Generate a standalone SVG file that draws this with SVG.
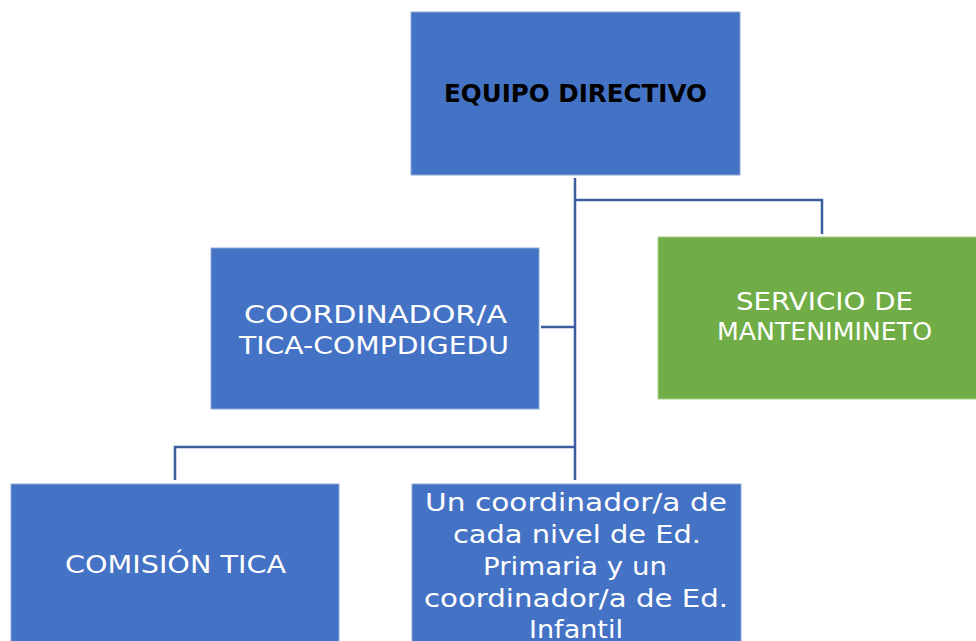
<svg xmlns="http://www.w3.org/2000/svg" width="976" height="641" viewBox="0 0 976 641">
<style>
.box{fill:#4472C4;stroke:#8FAADC;stroke-width:1}
.green{fill:#70AD47;stroke:#A9D18E;stroke-width:1}
.t{font-family:"DejaVu Sans","Liberation Sans",Arial,sans-serif;font-size:25px;fill:#ffffff;text-anchor:middle}
.b{font-family:"DejaVu Sans","Liberation Sans",Arial,sans-serif;font-size:25px;font-weight:bold;fill:#000000;text-anchor:middle}
.c{fill:none;stroke:#3A5EA0;stroke-width:2.5}
</style>
<rect width="976" height="641" fill="#ffffff"/>
<g id="connectors">
<path class="c" d="M575 178 V480"/>
<path class="c" d="M575 200 H822 V234"/>
<path class="c" d="M541 327 H575"/>
<path class="c" d="M575 447 H175 V480"/>
</g>
<g id="equipo">
<rect class="box" x="411" y="12" width="329" height="163"/>
<text class="b" x="575.5" y="102" textLength="263" lengthAdjust="spacingAndGlyphs">EQUIPO DIRECTIVO</text>
</g>
<g id="coordinador">
<rect class="box" x="211" y="248" width="328" height="161"/>
<text class="t" x="375.5" y="323" textLength="263" lengthAdjust="spacingAndGlyphs">COORDINADOR/A</text>
<text class="t" x="374" y="354" textLength="270" lengthAdjust="spacingAndGlyphs">TICA-COMPDIGEDU</text>
</g>
<g id="servicio">
<rect class="green" x="658" y="237" width="320" height="162"/>
<text class="t" x="824.5" y="310" textLength="177" lengthAdjust="spacingAndGlyphs">SERVICIO DE</text>
<text class="t" x="824.5" y="340" textLength="215" lengthAdjust="spacingAndGlyphs">MANTENIMINETO</text>
</g>
<g id="comision">
<rect class="box" x="11" y="484" width="328" height="162"/>
<text class="t" x="175.5" y="573" textLength="221" lengthAdjust="spacingAndGlyphs">COMISIÓN TICA</text>
</g>
<g id="coordinadores">
<rect class="box" x="412" y="484" width="329" height="162"/>
<text class="t" x="576" y="511" textLength="302" lengthAdjust="spacingAndGlyphs">Un coordinador/a de</text>
<text class="t" x="577" y="543" textLength="248" lengthAdjust="spacingAndGlyphs">cada nivel de Ed.</text>
<text class="t" x="575" y="575" textLength="184" lengthAdjust="spacingAndGlyphs">Primaria y un</text>
<text class="t" x="576" y="607" textLength="304" lengthAdjust="spacingAndGlyphs">coordinador/a de Ed.</text>
<text class="t" x="576" y="638" textLength="94" lengthAdjust="spacingAndGlyphs">Infantil</text>
</g>
</svg>
